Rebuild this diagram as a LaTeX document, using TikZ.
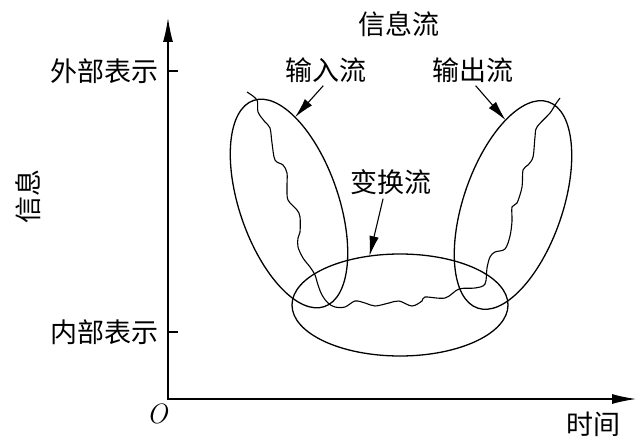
\documentclass[tikz,border=0pt]{standalone}
\usepackage{fontspec}
\newfontfamily\cjk{Noto Sans CJK SC}
\usetikzlibrary{shapes,arrows.meta,positioning}

\begin{document}
\begin{tikzpicture}[x=1pt, y=1pt,
  lbl/.style={font=\cjk\fontsize{27}{27}\selectfont, inner sep=0pt},
  axis/.style={line width=1.2pt},
  ptr/.style={line width=1.1pt, -{Latex[length=20pt,width=9.5pt]}, shorten <=4pt},
  flowring/.style={draw, ellipse, line width=1.3pt, inner sep=0pt, outer sep=0pt},
  wiggle/.style={line width=1.1pt}]

\useasboundingbox (0,0) rectangle (644,442);

%axes
\coordinate (O) at (168,43);
\coordinate (ytop) at (168,424);
\coordinate (xend) at (636,43);
\draw[axis, {Latex[length=24pt,width=10pt]}-{Latex[length=24pt,width=10pt]}] (ytop) |- (xend);

\coordinate (extTick) at (168,371);
\coordinate (intTick) at (168,110);
\draw[axis] (extTick) -- ++(10,0);
\draw[axis] (intTick) -- ++(10,0);

%nodes
\node[lbl, left=9pt of extTick] (extLbl) {外部表示};
\node[lbl, left=9pt of intTick] (intLbl) {内部表示};
\node[lbl, rotate=90] (infoLbl) at (28,245) {信息};
\node[font=\fontsize{28}{28}\selectfont\itshape, inner sep=0pt] (oLbl) at (157,28) {O};
\node[lbl] (timeLbl) at (593,18) {时间};

\node[lbl] (title) at (399,418) {信息流};
\node[lbl] (inLbl) at (326,372) {输入流};
\node[lbl] (outLbl) at (473,372) {输出流};
\node[lbl] (trLbl) at (391,260) {变换流};

%ellipses
\node[flowring, minimum width=99pt, minimum height=218pt, rotate=19] (inEll) at (289,238.5) {};
\node[flowring, minimum width=99pt, minimum height=218pt, rotate=-19] (outEll) at (513,237) {};
\node[flowring, minimum width=216pt, minimum height=102pt] (trEll) at (400,137) {};

%flow line
\draw[wiggle] plot[smooth, tension=0.55] coordinates {
  (247,350) (257,342) (258,330) (265,320) (270,314) (272,299) (275,282)
  (283,277) (287,269) (287,255) (288,242) (297,232) (300,225) (300,210)
  (298,204) (298,195) (303,184) (310,175) (315,167) (318,157) (322,147)
  (328,139) (335,135) (345,135) (355,141) (365,139) (375,136) (389,139)
  (399,141) (412,136) (422,141) (425,145) (445,144) (459,153) (475,154)
  (485,158) (487,174) (490,185) (495,190) (505,193) (510,206) (512,221)
  (512,235) (517,239) (522,255) (523,272) (528,277) (533,285) (535,305)
  (537,315) (550,329) (555,337) (560,344)};

%arrows
\draw[ptr] (inLbl.south) -- (inEll.67);
\draw[ptr] (outLbl.south) -- (outEll.114);
\draw[ptr] ([xshift=-7pt]trLbl.south) -- (trEll.122);

\end{tikzpicture}
\end{document}
